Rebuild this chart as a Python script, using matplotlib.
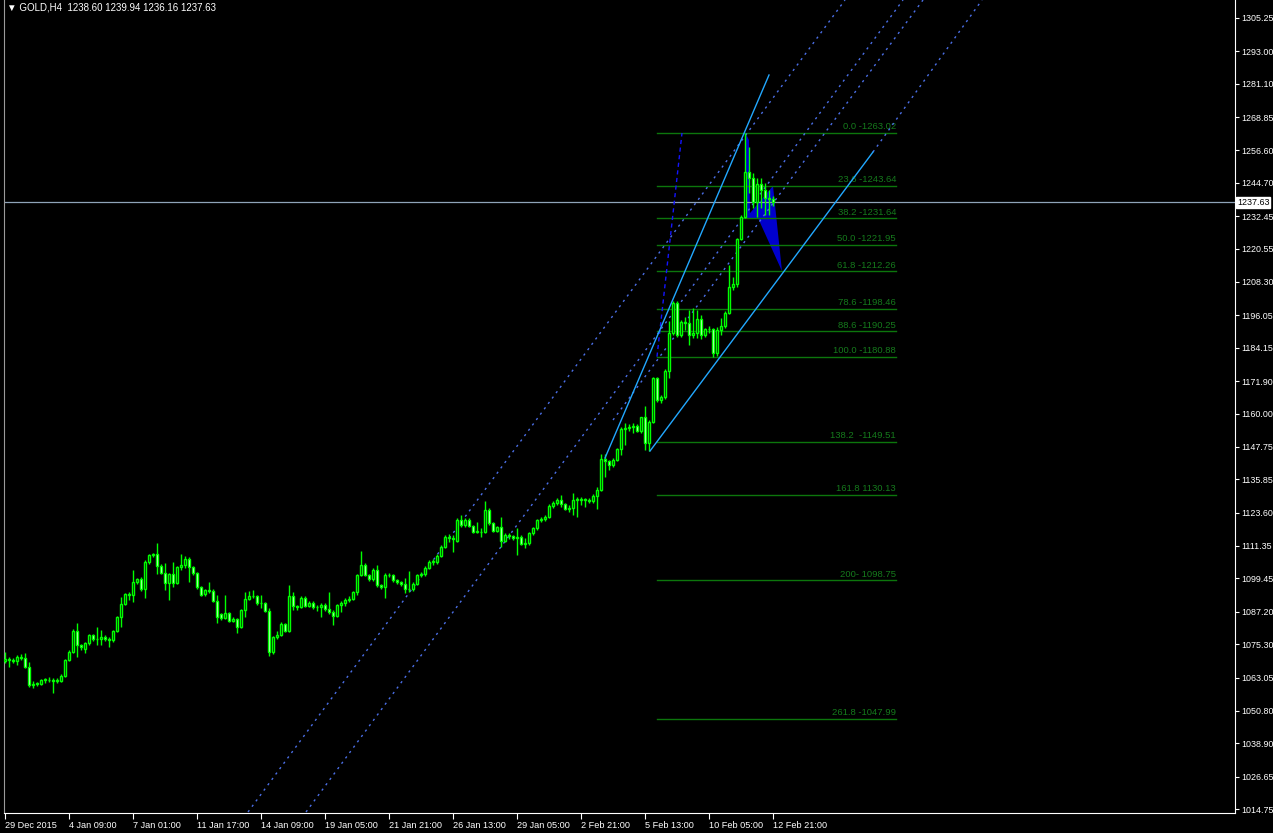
import matplotlib
matplotlib.use('Agg')
import matplotlib.pyplot as plt
import numpy as np

plt.rcParams['font.family'] = ['Liberation Sans', 'DejaVu Sans']

# GOLD H4 bars, oldest first (bar 0 = 29 Dec 2015, one bar every 4 hours)
opens = [1069.0, 1069.7, 1069.5, 1069.0, 1070.5, 1070.3, 1066.8, 1060.3, 1060.7, 1060.6,
         1062.1, 1062.1, 1062.0, 1061.9, 1061.9, 1063.7, 1069.5, 1072.5, 1080.1, 1075.0,
         1073.4, 1075.6, 1078.7, 1077.1, 1077.1, 1078.0, 1077.1, 1076.8, 1080.1, 1085.1,
         1090.0, 1093.7, 1093.3, 1098.0, 1099.1, 1095.4, 1105.3, 1108.0, 1108.3, 1104.1,
         1101.5, 1097.6, 1101.1, 1097.9, 1103.6, 1104.2, 1106.4, 1103.5, 1101.3, 1096.2,
         1093.6, 1095.2, 1095.0, 1091.3, 1086.4, 1084.9, 1086.6, 1083.9, 1084.6, 1081.7,
         1087.8, 1091.9, 1092.9, 1092.9, 1090.3, 1090.3, 1087.6, 1072.5, 1077.8, 1078.8,
         1082.6, 1080.1, 1093.0, 1089.3, 1089.0, 1092.1, 1089.3, 1090.3, 1088.8, 1089.0,
         1089.6, 1088.2, 1087.0, 1085.8, 1089.6, 1090.5, 1091.5, 1092.0, 1094.3, 1100.7,
         1104.4, 1100.7, 1099.1, 1102.5, 1097.0, 1096.2, 1100.6, 1100.7, 1098.9, 1098.0,
         1097.4, 1095.4, 1095.6, 1097.4, 1100.6, 1100.9, 1103.4, 1105.6, 1105.6, 1107.7,
         1111.1, 1114.8, 1114.1, 1113.3, 1120.9, 1119.0, 1120.9, 1118.7, 1116.6, 1116.6,
         1116.4, 1124.6, 1119.7, 1117.0, 1118.2, 1113.3, 1115.4, 1115.0, 1114.4, 1114.8,
         1112.1, 1112.3, 1116.0, 1117.8, 1120.9, 1121.3, 1122.1, 1126.0, 1127.0, 1128.2,
         1126.8, 1125.0, 1125.2, 1128.2, 1128.2, 1128.6, 1128.2, 1127.9, 1129.7, 1131.9,
         1143.2, 1142.7, 1141.1, 1142.9, 1146.8, 1154.2, 1154.5, 1155.2, 1155.5, 1153.7,
         1158.6, 1149.3, 1157.0, 1172.9, 1165.0, 1165.9, 1175.6, 1189.5, 1200.6, 1188.8,
         1193.7, 1193.4, 1188.8, 1189.4, 1194.7, 1188.8, 1190.9, 1190.9, 1182.1, 1190.7,
         1192.0, 1197.0, 1206.4, 1207.6, 1224.0, 1232.3, 1248.8, 1246.4, 1237.8, 1244.2,
         1242.1, 1239.0, 1238.60]
highs = [1072.5, 1070.7, 1070.2, 1071.3, 1071.6, 1071.9, 1068.9, 1061.6, 1061.4, 1062.6,
         1063.0, 1063.3, 1062.8, 1062.9, 1064.5, 1070.0, 1073.0, 1080.9, 1082.9, 1075.5,
         1076.2, 1079.2, 1079.0, 1081.7, 1080.5, 1078.5, 1078.0, 1080.6, 1085.6, 1092.7,
         1094.2, 1094.6, 1102.5, 1099.6, 1099.8, 1106.2, 1108.5, 1108.9, 1112.6, 1104.6,
         1105.0, 1101.6, 1105.3, 1104.0, 1108.3, 1107.6, 1107.4, 1104.0, 1101.8, 1096.7,
         1095.7, 1098.2, 1095.4, 1093.3, 1086.9, 1093.3, 1087.0, 1085.4, 1085.0, 1088.3,
         1094.6, 1094.8, 1095.2, 1093.4, 1093.3, 1090.8, 1088.7, 1078.3, 1080.0, 1083.5,
         1083.0, 1097.0, 1094.6, 1089.6, 1093.0, 1093.0, 1091.0, 1091.2, 1089.8, 1090.5,
         1090.3, 1094.5, 1088.0, 1090.2, 1091.2, 1092.2, 1092.8, 1095.0, 1101.2, 1109.5,
         1105.0, 1101.2, 1103.2, 1104.4, 1097.5, 1101.3, 1101.5, 1101.2, 1099.4, 1098.6,
         1099.5, 1102.3, 1098.0, 1101.2, 1101.8, 1104.0, 1106.2, 1106.6, 1108.3, 1111.8,
         1115.5, 1115.6, 1115.4, 1121.5, 1122.7, 1121.6, 1121.5, 1119.2, 1120.3, 1117.8,
         1127.9, 1125.3, 1120.2, 1118.8, 1121.9, 1116.0, 1116.0, 1115.3, 1117.8, 1115.3,
         1114.2, 1116.6, 1118.5, 1121.4, 1122.0, 1122.8, 1126.6, 1127.8, 1128.9, 1130.1,
         1127.3, 1126.4, 1130.7, 1129.4, 1129.3, 1129.1, 1128.8, 1130.3, 1133.1, 1145.1,
         1145.1, 1142.9, 1143.5, 1147.3, 1155.2, 1156.4, 1156.1, 1156.4, 1156.0, 1158.9,
         1162.8, 1157.6, 1173.5, 1173.3, 1166.7, 1176.2, 1194.0, 1201.3, 1201.3, 1194.3,
         1195.6, 1198.0, 1198.6, 1198.0, 1196.0, 1191.5, 1192.3, 1191.5, 1191.8, 1195.0,
         1197.8, 1214.6, 1210.3, 1224.4, 1232.9, 1263.02, 1258.0, 1248.2, 1246.4, 1246.4,
         1244.5, 1242.1, 1239.94]
lows = [1068.2, 1067.0, 1068.3, 1067.6, 1069.5, 1066.4, 1059.7, 1059.1, 1059.8, 1060.2,
        1061.2, 1061.5, 1057.5, 1061.0, 1061.4, 1063.2, 1069.0, 1072.0, 1070.7, 1073.0,
        1072.2, 1075.0, 1076.6, 1075.0, 1075.0, 1076.4, 1074.4, 1076.2, 1079.6, 1081.7,
        1089.5, 1091.5, 1090.9, 1097.5, 1094.8, 1092.1, 1104.8, 1107.4, 1100.9, 1100.9,
        1095.2, 1091.5, 1096.4, 1097.4, 1102.5, 1103.1, 1098.2, 1100.8, 1095.7, 1092.8,
        1093.0, 1094.0, 1090.8, 1082.9, 1084.3, 1084.4, 1083.4, 1083.3, 1079.3, 1081.2,
        1085.4, 1091.4, 1092.1, 1089.8, 1088.5, 1087.1, 1070.9, 1071.6, 1077.3, 1078.3,
        1079.6, 1079.6, 1087.8, 1087.8, 1088.5, 1088.8, 1088.9, 1088.3, 1087.6, 1085.1,
        1087.6, 1086.5, 1082.3, 1085.3, 1087.0, 1089.4, 1090.8, 1091.5, 1093.3, 1100.2,
        1100.2, 1098.6, 1098.6, 1096.4, 1095.5, 1092.1, 1099.8, 1098.3, 1097.4, 1096.6,
        1094.0, 1094.6, 1095.0, 1097.0, 1099.9, 1100.4, 1103.0, 1104.5, 1104.9, 1107.2,
        1110.6, 1112.9, 1109.3, 1112.9, 1118.5, 1118.4, 1118.2, 1116.0, 1116.0, 1114.5,
        1116.0, 1119.2, 1116.5, 1116.4, 1111.1, 1112.8, 1113.8, 1113.6, 1108.0, 1111.6,
        1110.5, 1111.8, 1115.4, 1117.2, 1120.3, 1120.7, 1121.6, 1125.4, 1126.4, 1125.8,
        1124.4, 1124.0, 1122.7, 1121.9, 1126.3, 1125.6, 1127.0, 1127.3, 1124.8, 1131.4,
        1136.8, 1139.3, 1140.4, 1142.4, 1144.8, 1148.4, 1153.7, 1152.7, 1153.2, 1152.7,
        1146.5, 1146.2, 1156.5, 1164.4, 1164.0, 1165.3, 1172.9, 1189.0, 1188.0, 1188.2,
        1190.7, 1185.2, 1187.8, 1187.6, 1187.5, 1188.2, 1189.4, 1180.88, 1181.1, 1189.0,
        1191.3, 1196.7, 1205.4, 1206.6, 1223.7, 1231.7, 1240.8, 1235.4, 1232.3, 1235.4,
        1232.9, 1232.9, 1236.16]
closes = [1069.7, 1069.5, 1069.0, 1070.5, 1070.3, 1066.8, 1060.3, 1060.7, 1060.6, 1062.1,
          1062.1, 1062.0, 1061.9, 1061.9, 1063.7, 1069.5, 1072.5, 1080.1, 1075.0, 1074.4,
          1075.6, 1078.7, 1077.1, 1077.1, 1078.0, 1077.1, 1076.8, 1080.1, 1085.1, 1090.0,
          1093.7, 1093.3, 1098.0, 1099.1, 1095.4, 1105.3, 1108.0, 1108.3, 1104.1, 1101.5,
          1097.6, 1101.1, 1097.9, 1103.6, 1104.2, 1106.4, 1103.5, 1101.3, 1096.2, 1093.3,
          1095.2, 1095.0, 1091.3, 1085.1, 1084.9, 1086.6, 1083.9, 1084.6, 1081.7, 1087.8,
          1091.9, 1092.9, 1092.9, 1090.3, 1090.3, 1087.6, 1072.5, 1077.8, 1078.8, 1082.6,
          1080.1, 1093.0, 1089.3, 1089.0, 1092.1, 1089.3, 1090.3, 1088.8, 1089.0, 1089.6,
          1088.2, 1087.0, 1085.8, 1089.6, 1090.5, 1091.5, 1092.0, 1094.3, 1100.7, 1104.4,
          1100.7, 1099.1, 1102.5, 1097.0, 1096.2, 1100.6, 1100.7, 1098.9, 1098.0, 1097.4,
          1095.4, 1095.6, 1097.4, 1100.6, 1100.9, 1103.4, 1105.6, 1105.6, 1107.7, 1111.1,
          1114.8, 1114.1, 1113.9, 1120.9, 1119.0, 1120.9, 1118.7, 1116.6, 1116.6, 1116.4,
          1124.6, 1119.7, 1117.0, 1118.2, 1113.3, 1115.4, 1115.0, 1114.4, 1114.8, 1112.1,
          1112.3, 1116.0, 1117.8, 1120.9, 1121.3, 1122.1, 1126.0, 1127.0, 1128.2, 1126.8,
          1125.0, 1125.2, 1128.2, 1128.2, 1128.6, 1128.2, 1127.9, 1129.7, 1131.9, 1143.2,
          1142.7, 1141.1, 1142.9, 1146.8, 1154.2, 1154.5, 1155.2, 1155.5, 1153.7, 1158.6,
          1149.3, 1157.0, 1172.9, 1165.0, 1165.9, 1175.6, 1189.5, 1200.6, 1188.8, 1193.7,
          1193.4, 1188.8, 1189.4, 1194.7, 1188.8, 1190.9, 1190.9, 1182.1, 1190.7, 1192.0,
          1197.0, 1206.4, 1207.6, 1224.0, 1232.3, 1248.8, 1246.4, 1237.8, 1244.2, 1242.1,
          1239.0, 1238.6, 1237.63]

date_labels = ['29 Dec 2015', '4 Jan 09:00', '7 Jan 01:00', '11 Jan 17:00', '14 Jan 09:00',
               '19 Jan 05:00', '21 Jan 21:00', '26 Jan 13:00', '29 Jan 05:00', '2 Feb 21:00',
               '5 Feb 13:00', '10 Feb 05:00', '12 Feb 21:00']
date_bars = [0, 16, 32, 48, 64, 80, 96, 112, 128, 144, 160, 176, 192]

price_ticks = [1305.25, 1293.00, 1281.10, 1268.85, 1256.60, 1244.70, 1232.45, 1220.55,
               1208.30, 1196.05, 1184.15, 1171.90, 1160.00, 1147.75, 1135.85, 1123.60,
               1111.35, 1099.45, 1087.20, 1075.30, 1063.05, 1050.80, 1038.90, 1026.65, 1014.75]

bid = 1237.63

# fibonacci retracement / expansion levels
fib_levels = [1263.02, 1243.64, 1231.64, 1221.95, 1212.26, 1198.46, 1190.25, 1180.88,
              1149.51, 1130.13, 1098.75, 1047.99]
fib_labels = ['0.0 -1263.02', '23.6 -1243.64', '38.2 -1231.64', '50.0 -1221.95',
              '61.8 -1212.26', '78.6 -1198.46', '88.6 -1190.25', '100.0 -1180.88',
              '138.2  -1149.51', '161.8 1130.13', '200- 1098.75', '261.8 -1047.99']
fib_start, fib_end = 163, 222.75

# trend / channel lines as (bar, price) anchor pairs
solid_lines = [((150, 1143.66), (191, 1284.32)),
               ((161.25, 1146.23), (217, 1256.04))]
dotted_lines = [((60.75, 1013.65), (210, 1311.86)),
                ((75.25, 1013.65), (224.5, 1311.86)),
                ((152, 1157.61), (229.5, 1311.86)),
                ((217, 1256.04), (244.25, 1311.86))]
steep_line = ((163, 1180.88), (169.25, 1263.02))
wedge = [(185, 1263.38), (185.5, 1231.8), (188.25, 1231.8), (194.25, 1212.26),
         (192, 1243.6), (186.25, 1233.6), (186, 1260.4)]

W, H = 1273, 833
fig = plt.figure(figsize=(W / 100, H / 100), dpi=100, facecolor='black')
ax = fig.add_axes([4 / W, (H - 813) / H, (1235 - 4) / W, 813 / H], facecolor='black')
ax.set_xlim(-0.25, 307.5)
ax.set_ylim(1013.29, 1311.86)

# filled blue wedge behind the bars
ax.fill([p[0] for p in wedge], [p[1] for p in wedge], color='#0000cd', lw=0, zorder=1)

# fibonacci
for lvl, lab in zip(fib_levels, fib_labels):
    ax.plot([fib_start, fib_end], [lvl, lvl], color='#0c760c', lw=1, zorder=2)
    ax.text(fib_end, lvl + 0.6, lab, color='#157a1c', fontsize=6.8, ha='right', va='bottom', zorder=2)

ax.axhline(bid, color='#8fa3b8', lw=0.9, zorder=2)

for (x0, y0), (x1, y1) in dotted_lines:
    ax.plot([x0, x1], [y0, y1], color='#4b6fe6', lw=1, ls=(0, (1.6, 3.2)), zorder=2)
ax.plot([steep_line[0][0], steep_line[1][0]], [steep_line[0][1], steep_line[1][1]],
        color='#1414ff', lw=1, ls=(0, (3, 2.5)), zorder=2)
for (x0, y0), (x1, y1) in solid_lines:
    ax.plot([x0, x1], [y0, y1], color='#22a8ff', lw=1, zorder=5)

# candles
o = np.array(opens)
c = np.array(closes)
hi = np.array(highs)
lo = np.array(lows)
x = np.arange(len(c))
bull = c >= o
ax.vlines(x, lo, hi, color='#00ff00', lw=1.0, zorder=3)
body = np.maximum(np.abs(c - o), 0.25)
ax.bar(x, body, bottom=np.minimum(o, c), width=0.55,
       color=np.where(bull, 'black', 'white'), edgecolor='#00ff00', linewidth=1.0, zorder=4)

# axes styling
ax.spines['top'].set_visible(False)
ax.spines['left'].set_color('#9a9a9a')
ax.spines['right'].set_color('white')
ax.spines['bottom'].set_color('white')
ax.yaxis.tick_right()
ax.set_yticks(price_ticks)
ax.set_yticklabels([f'{v:.2f}' for v in price_ticks])
ax.tick_params(axis='y', colors='white', labelsize=6.4, length=3, width=0.8, pad=1.5)
ax.set_xticks(date_bars)
ax.set_xticklabels(date_labels, ha='left')
ax.tick_params(axis='x', colors='white', labelsize=6.6, length=4, width=0.8, pad=2)

ax.text(1.0015, bid, f'{bid:.2f}', transform=ax.get_yaxis_transform(), color='black',
        fontsize=6.4, ha='left', va='center',
        bbox=dict(boxstyle='square,pad=0.1', fc='white', ec='white'), zorder=10, clip_on=False)

fig.text(7 / W, 1 - 3 / H, '\u25bc GOLD,H4  1238.60 1239.94 1236.16 1237.63', color='white',
         fontsize=7, ha='left', va='top')

fig.savefig('out.png', dpi=100, facecolor='black')
